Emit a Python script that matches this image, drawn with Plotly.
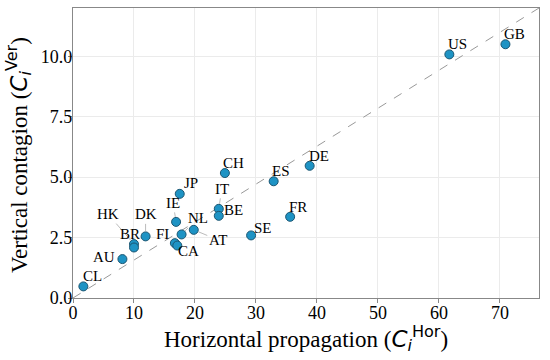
import plotly.graph_objects as go

countries = ["CL", "AU", "HK", "BR", "DK", "IE", "JP", "FI", "CA", "NL", "AT",
             "IT", "BE", "SE", "CH", "ES", "DE", "FR", "US", "GB"]
horizontal = [1.7, 8.1, 10.0, 10.0, 11.9, 16.9, 17.5, 16.7, 17.1, 17.8, 19.8,
              23.9, 23.9, 29.2, 24.9, 32.9, 38.8, 35.6, 61.7, 70.9]
vertical = [0.48, 1.61, 2.23, 2.09, 2.55, 3.15, 4.31, 2.27, 2.17, 2.63, 2.82,
            3.69, 3.40, 2.59, 5.17, 4.83, 5.47, 3.36, 10.08, 10.50]
# label offsets in pixels (dx right, dy down) and whether a leader line is drawn
label_dx = [9, -18, -26, -4, 0, -3, 11, -12, 11, 16, 24, 3, 15, 12, 9, 7, 9, 8, 8, 9]
label_dy = [-10, -2, -30, -13, -22, -19, -11, -9, 5, -16, 10, -20, -6, -7, -10, -10, -10, -10, -10, -10]
leader = [False, False, True, True, True, True, False, False, True, True, True,
          True, False, False, False, False, False, False, False, False]

x_max = 76.4
y_max = 12.0
serif = "Liberation Serif, Times New Roman, serif"
sans = "font-family:DejaVu Sans"

fig = go.Figure()
fig.add_trace(go.Scatter(
    x=[0, x_max], y=[0, y_max], mode="lines",
    line=dict(color="#999999", width=1, dash="dash"),
    hoverinfo="skip", showlegend=False))
fig.add_trace(go.Scatter(
    x=horizontal, y=vertical, mode="markers",
    marker=dict(size=9, color="#1e93c4", line=dict(color="#1b5672", width=1)),
    text=countries, showlegend=False))

for c, xv, yv, dx, dy, ld in zip(countries, horizontal, vertical, label_dx, label_dy, leader):
    if ld:
        fig.add_annotation(x=xv, y=yv, text=c, showarrow=True, ax=dx, ay=dy,
                           arrowhead=0, arrowwidth=0.8, arrowcolor="#aaaaaa",
                           standoff=5, font=dict(family=serif, size=15, color="black"))
    else:
        fig.add_annotation(x=xv, y=yv, text=c, showarrow=False, xshift=dx, yshift=-dy,
                           font=dict(family=serif, size=15, color="black"))

# axis titles
fig.add_annotation(
    xref="paper", yref="paper", x=0.5, y=0, xanchor="center", yanchor="middle",
    yshift=-40, showarrow=False,
    text=f"Horizontal propagation (<span style='{sans}'><i>C</i><sub><i>i</i></sub><sup>Hor</sup></span>)",
    font=dict(family=serif, size=23, color="black"))
fig.add_annotation(
    xref="paper", yref="paper", x=0, y=0.5, xanchor="center", yanchor="middle",
    xshift=-55, yshift=-2, textangle=-90, showarrow=False,
    text=f"Vertical contagion (<span style='{sans}'><i>C</i><sub><i>i</i></sub><sup>Ver</sup></span>)",
    font=dict(family=serif, size=23, color="black"))

axis_common = dict(
    showgrid=True, gridcolor="#ebebeb", gridwidth=1,
    zeroline=False, showline=True, linecolor="#888888", linewidth=1.2, mirror=True,
    ticks="outside", ticklen=4, tickcolor="#888888", automargin=False,
    tickfont=dict(family=serif, size=18, color="black"),
)
fig.update_layout(
    width=550, height=360,
    margin=dict(l=73, r=11, t=8, b=62),
    paper_bgcolor="white", plot_bgcolor="white",
    font=dict(family=serif, size=18, color="black"),
    xaxis=dict(range=[0, x_max], dtick=10, tick0=0, ticklabelstandoff=-6, **axis_common),
    yaxis=dict(range=[0, y_max], dtick=2.5, tick0=0, tickformat=".1f", ticklabelstandoff=-8, **axis_common),
)

fig.write_html("out.html", config={"displayModeBar": False},
               post_script="document.body.style.margin='0';")
